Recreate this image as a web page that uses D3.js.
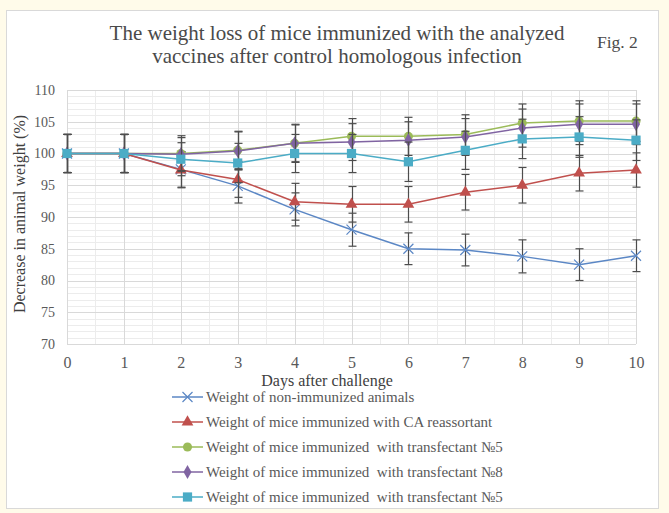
<!DOCTYPE html>
<html>
<head>
<meta charset="utf-8">
<script src="https://cdn.jsdelivr.net/npm/d3@7"></script>
<style>
  html, body { margin: 0; padding: 0; background: #fffbea; }
  svg { display: block; }
  text { font-family: "Liberation Serif", "DejaVu Serif", serif; }
</style>
</head>
<body>
<svg width="669" height="513"></svg>
<script>
// Data
const days = [0, 1, 2, 3, 4, 5, 6, 7, 8, 9, 10];
const seriesNames = [
  "Weight of non-immunized animals",
  "Weight of mice immunized with CA reassortant",
  "Weight of mice immunized  with transfectant №5",
  "Weight of mice immunized  with transfectant №8",
  "Weight of mice immunized  with transfectant №5"
];
const nonImmunized = [100, 100, 97.5, 94.9, 91.2, 88, 85, 84.8, 83.8, 82.5, 83.9];
const caReassortant = [100, 100, 97.4, 95.9, 92.4, 92, 92, 93.9, 95, 96.9, 97.4];
const transfectant5 = [100, 100, 100, 100.5, 101.6, 102.7, 102.7, 103, 104.8, 105.1, 105.1];
const transfectant8 = [100, 100, 99.9, 100.4, 101.6, 101.8, 102.1, 102.6, 104, 104.6, 104.6];
const transfectant5b = [100, 100, 99.1, 98.5, 100, 100, 98.7, 100.5, 102.3, 102.6, 102.1];
const errNon = [3, 3, 2.8, 2.7, 2.6, 2.6, 2.5, 2.5, 2.6, 2.5, 2.5];
const errCA = [3, 3, 2.8, 2.8, 2.9, 2.8, 2.8, 2.8, 2.8, 2.8, 2.7];
const errT5 = [3, 3, 2.8, 3, 3, 2.8, 3, 3.1, 3, 3.2, 3.2];
const errT8 = [3, 3, 2.6, 3, 2.9, 2.9, 2.9, 2.9, 3, 3.2, 3.2];
const errT5b = [3, 3, 2.6, 3.1, 3, 3, 3.1, 3, 3.1, 3.2, 3.2];
const yTicks = [70, 75, 80, 85, 90, 95, 100, 105, 110];

const colors = ["#5b87c5", "#c0504d", "#9bbb59", "#8064a2", "#4bacc6"];
const symbols = ["x", "triangle", "circle", "diamond", "square"];
const values = [nonImmunized, caReassortant, transfectant5, transfectant8, transfectant5b];
const errors = [errNon, errCA, errT5, errT8, errT5b];

const series = seriesNames.map((name, i) => ({
  name, color: colors[i], symbol: symbols[i],
  points: days.map((d, j) => ({day: d, v: values[i][j], e: errors[i][j]}))
}));

const svg = d3.select("svg");
const serif = "'Liberation Serif', 'DejaVu Serif', serif";

// white panel
svg.append("rect")
  .attr("x", 6.5).attr("y", 10.5).attr("width", 652).attr("height", 498)
  .attr("fill", "#fff").attr("stroke", "#d9d9d9");

const plot = {left: 67, right: 636, top: 90, bottom: 344};
const x = d3.scaleLinear().domain([0, 10]).range([plot.left, plot.right]);
const y = d3.scaleLinear().domain([70, 110]).range([plot.bottom, plot.top]);

// minor grid
const grid = svg.append("g");
grid.selectAll(".hmin").data(d3.range(70, 111, 1)).enter().append("line")
  .attr("x1", plot.left).attr("x2", plot.right)
  .attr("y1", d => Math.round(y(d)) + 0.5).attr("y2", d => Math.round(y(d)) + 0.5)
  .attr("stroke", "#ececec");
grid.selectAll(".vmin").data(d3.range(0.5, 10, 1)).enter().append("line")
  .attr("y1", plot.top).attr("y2", plot.bottom)
  .attr("x1", d => Math.round(x(d)) + 0.5).attr("x2", d => Math.round(x(d)) + 0.5)
  .attr("stroke", "#ececec");
// major grid
grid.selectAll(".hmaj").data(yTicks).enter().append("line")
  .attr("x1", plot.left).attr("x2", plot.right)
  .attr("y1", d => Math.round(y(d)) + 0.5).attr("y2", d => Math.round(y(d)) + 0.5)
  .attr("stroke", "#d9d9d9");
grid.selectAll(".vmaj").data(days).enter().append("line")
  .attr("y1", plot.top).attr("y2", plot.bottom)
  .attr("x1", d => Math.round(x(d)) + 0.5).attr("x2", d => Math.round(x(d)) + 0.5)
  .attr("stroke", "#d9d9d9");

// axes labels
const yAxis = d3.axisLeft(y).tickValues(yTicks).tickSize(0).tickPadding(12);
svg.append("g").attr("transform", `translate(${plot.left},0)`).call(yAxis)
  .attr("font-family", serif)
  .call(g => g.select(".domain").remove())
  .selectAll("text").attr("fill", "#595959").style("font-size", "14px");

const xAxis = d3.axisBottom(x).tickValues(days).tickSize(0).tickPadding(13);
svg.append("g").attr("transform", `translate(0,${plot.bottom})`).call(xAxis)
  .attr("font-family", serif)
  .call(g => g.select(".domain").remove())
  .selectAll("text").attr("fill", "#595959").style("font-size", "16px");

// titles
svg.append("text").attr("x", 337).attr("y", 40).attr("text-anchor", "middle")
  .attr("fill", "#4a4a4a").style("font-size", "21px")
  .text("The weight loss of mice immunized  with the analyzed");
svg.append("text").attr("x", 337).attr("y", 63).attr("text-anchor", "middle")
  .attr("fill", "#4a4a4a").style("font-size", "21px")
  .text("vaccines after control homologous infection");
svg.append("text").attr("x", 597).attr("y", 48)
  .attr("fill", "#4a4a4a").style("font-size", "17.5px").text("Fig. 2");

svg.append("text").attr("x", 327).attr("y", 386).attr("text-anchor", "middle")
  .attr("fill", "#404040").style("font-size", "16px").text("Days after challenge");
svg.append("text").attr("transform", "translate(25,214) rotate(-90)")
  .attr("text-anchor", "middle").attr("fill", "#404040").style("font-size", "16px")
  .text("Decrease in animal weight (%)");

// symbol helper
function drawMarker(g, s, cx, cy) {
  if (s.symbol === "x") {
    g.append("path")
      .attr("d", `M${cx - 5},${cy - 5}L${cx + 5},${cy + 5}M${cx - 5},${cy + 5}L${cx + 5},${cy - 5}`)
      .attr("stroke", s.color).attr("stroke-width", 1.2).attr("fill", "none");
  } else {
    const type = {triangle: d3.symbolTriangle, circle: d3.symbolCircle,
      diamond: d3.symbolDiamond, square: d3.symbolSquare}[s.symbol];
    const size = {triangle: 60, circle: 65, diamond: 55, square: 85}[s.symbol];
    g.append("path")
      .attr("d", d3.symbol().type(type).size(size)())
      .attr("transform", `translate(${cx},${cy})`)
      .attr("fill", s.color);
  }
}

const line = d3.line().x(d => x(d.day)).y(d => y(d.v));

series.forEach(s => {
  const g = svg.append("g");
  // error bars
  s.points.forEach(p => {
    const cx = Math.round(x(p.day)) + 0.5;
    const y1 = y(p.v + p.e), y2 = y(p.v - p.e);
    g.append("line").attr("x1", cx).attr("x2", cx).attr("y1", y1).attr("y2", y2)
      .attr("stroke", "#4d4d4d").attr("stroke-width", 1.2);
    [y1, y2].forEach(yy => g.append("line")
      .attr("x1", cx - 4).attr("x2", cx + 4).attr("y1", yy).attr("y2", yy)
      .attr("stroke", "#4d4d4d").attr("stroke-width", 1.2));
  });
  g.append("path").datum(s.points).attr("d", line)
    .attr("fill", "none").attr("stroke", s.color).attr("stroke-width", 1.5);
  s.points.forEach(p => drawMarker(g, s, x(p.day), y(p.v)));
});

// legend
const legend = svg.append("g");
series.forEach((s, i) => {
  const ly = 397 + i * 25;
  const g = legend.append("g");
  g.append("line").attr("x1", 172).attr("x2", 203).attr("y1", ly).attr("y2", ly)
    .attr("stroke", s.color).attr("stroke-width", 1.5);
  drawMarker(g, s, 187.5, ly);
  g.append("text").attr("x", 206).attr("y", ly + 5).attr("fill", "#595959")
    .style("font-size", "15px").style("white-space", "pre").text(s.name);
});
</script>
</body>
</html>
